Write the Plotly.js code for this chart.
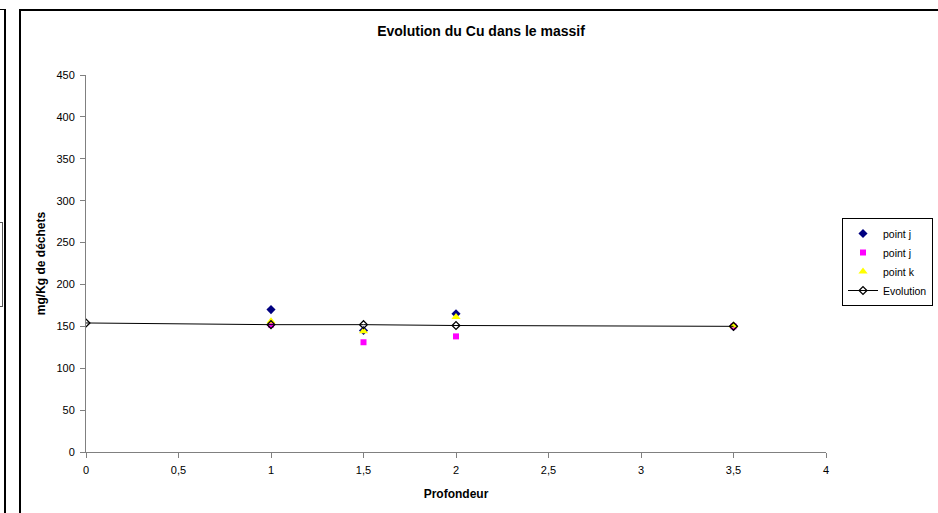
<!DOCTYPE html>
<html>
<head>
<meta charset="utf-8">
<script src="https://cdn.plot.ly/plotly-3.0.1.min.js"></script>
<style>
html,body{margin:0;padding:0;background:#fff;}
#wrap{position:relative;width:938px;height:513px;overflow:hidden;}
#chart{position:absolute;left:0;top:0;width:938px;height:513px;}
.frame{position:absolute;border:0 solid #000;pointer-events:none;}
</style>
</head>
<body>
<div id="wrap">
<div id="chart"></div>
<div class="frame" style="left:-2px;top:9px;width:6px;height:520px;border-right-width:2px;border-top-width:1px;"></div>
<div class="frame" style="left:-2px;top:222px;width:3px;height:83px;border-width:1px;border-color:#555;"></div>
<div class="frame" style="left:19px;top:9px;width:930px;height:520px;border-left-width:2px;border-top-width:2px;"></div>
</div>
<script>
const depthPts = [1, 1.5, 2, 3.5];
const pointJ1 = [170, 145, 165, 150];
const pointJ2 = [152, 131, 138, 150];
const pointK = [156, 144, 161, 151];
const depthEvo = [0, 1, 1.5, 2, 3.5];
const evolution = [154, 152, 152, 151, 150];
const seriesNames = ["point j", "point j", "point k", "Evolution"];
const xTicks = [0, 0.5, 1, 1.5, 2, 2.5, 3, 3.5, 4];
const xTickText = ["0", "0,5", "1", "1,5", "2", "2,5", "3", "3,5", "4"];
const yTicks = [0, 50, 100, 150, 200, 250, 300, 350, 400, 450];

const font = {family: "Liberation Sans, Arial, sans-serif", color: "#000"};

const traces = [
  {x: depthPts, y: pointJ1, name: seriesNames[0], mode: "markers", type: "scatter",
   marker: {symbol: "diamond", size: 7, color: "#000080"}},
  {x: depthPts, y: pointJ2, name: seriesNames[1], mode: "markers", type: "scatter",
   marker: {symbol: "square", size: 6, color: "#FF00FF"}},
  {x: depthPts, y: pointK, name: seriesNames[2], mode: "markers", type: "scatter",
   marker: {symbol: "triangle-up", size: 8, color: "#FFFF00"}},
  {x: depthEvo, y: evolution, name: seriesNames[3], mode: "lines+markers", type: "scatter",
   line: {color: "#000", width: 1},
   marker: {symbol: "diamond-open", size: 6, color: "#000", line: {color: "#000", width: 1.3}}}
];

const layout = {
  width: 938, height: 513,
  margin: {l: 86, r: 112, t: 75, b: 61},
  paper_bgcolor: "#fff", plot_bgcolor: "#fff",
  font: Object.assign({size: 11}, font),
  title: {text: "<b>Evolution du Cu dans le massif</b>", x: 481/938, xanchor: "center", xref: "container",
          y: 1 - 31/513, yanchor: "middle", font: Object.assign({size: 14}, font)},
  xaxis: {range: [0, 4], tickvals: xTicks, ticktext: xTickText, showgrid: false, zeroline: false,
          showline: true, linecolor: "#808080", linewidth: 1, ticks: "outside", ticklen: 5,
          tickcolor: "#808080", tickfont: Object.assign({size: 11}, font), ticklabelstandoff: 3,
          title: {text: "<b>Profondeur</b>", font: Object.assign({size: 12}, font), standoff: 14}},
  yaxis: {range: [0, 450], tickvals: yTicks, showgrid: false, zeroline: false,
          showline: true, linecolor: "#808080", linewidth: 1, ticks: "outside", ticklen: 5,
          tickcolor: "#808080", tickfont: Object.assign({size: 11}, font), ticklabelstandoff: 3,
          title: {text: "<b>mg/Kg de déchets</b>", font: Object.assign({size: 12}, font), standoff: 8}},
  legend: {xref: "container", x: 842/938, xanchor: "left", yref: "container", y: 1 - 262/513, yanchor: "middle",
           bordercolor: "#000", borderwidth: 1,
           bgcolor: "#fff", font: Object.assign({size: 10.5}, font), tracegroupgap: 0, itemwidth: 30},
  showlegend: true
};

Plotly.newPlot("chart", traces, layout, {displayModeBar: false, staticPlot: true});
</script>
</body>
</html>
